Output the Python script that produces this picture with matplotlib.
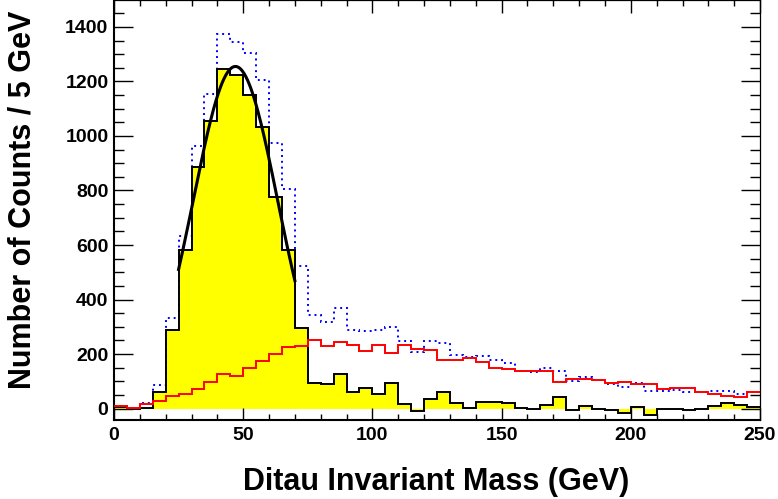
import numpy as np
import matplotlib
matplotlib.use("Agg")
import matplotlib.pyplot as plt
from matplotlib.ticker import MultipleLocator

plt.rcParams['font.family'] = ['Liberation Sans', 'DejaVu Sans']
plt.rcParams['font.weight'] = 'bold'

# 5 GeV bins from 0 to 250
bin_edges = np.arange(0, 255, 5)

# signal (yellow filled, black outline)
signal = [5, -2, 1, 60, 288, 582, 887, 1056, 1245, 1224,
          1152, 1032, 775, 582, 297, 92, 89, 128, 59, 75,
          54, 94, 16, -8, 34, 62, 21, 2, 23, 25,
          20, 1, -3, 12, 41, -5, 10, -3, -5, -17,
          5, -24, 0, -3, -7, 0, 10, 20, 13, 7]

# background (red)
background = [8, 2, 18, 28, 46, 54, 73, 98, 128, 120,
              150, 174, 200, 226, 230, 252, 231, 243, 232, 212,
              235, 205, 232, 218, 215, 178, 178, 187, 170, 150,
              146, 139, 138, 138, 97, 109, 109, 106, 92, 98,
              90, 89, 72, 74, 74, 59, 54, 47, 42, 61]

# total (blue dotted)
total = [10, 2, 20, 86, 333, 634, 963, 1155, 1374, 1346,
         1303, 1205, 975, 805, 524, 345, 319, 370, 289, 285,
         289, 298, 248, 209, 247, 239, 196, 189, 191, 177,
         168, 139, 134, 149, 138, 102, 117, 105, 89, 80,
         95, 65, 65, 68, 59, 62, 65, 65, 54, 62]

# gaussian fit to the signal peak
fit_amp = 1255
fit_mean = 47.0
fit_sigma = 16.4
fit_range = (25, 70)

fig = plt.figure(figsize=(7.78, 4.99), dpi=100)
ax = fig.add_axes([0.1465, 0.1583, 0.8304, 0.8407])

ax.stairs(signal, bin_edges, fill=True, color='#ffff00', baseline=0, zorder=1)
ax.stairs(signal, bin_edges, baseline=None, color='black', lw=1.4, zorder=3)
ax.stairs(total, bin_edges, baseline=None, color='#0000ff', lw=1.4,
          linestyle=(0, (1, 2)), zorder=2)
ax.stairs(background, bin_edges, baseline=None, color='#ff0000', lw=1.4, zorder=4)

xf = np.linspace(fit_range[0], fit_range[1], 200)
yf = fit_amp * np.exp(-0.5 * ((xf - fit_mean) / fit_sigma) ** 2)
ax.plot(xf, yf, color='black', lw=2.2, zorder=5)

ax.set_xlim(0, 250)
ax.set_ylim(-42, 1497)

ax.xaxis.set_major_locator(MultipleLocator(50))
ax.xaxis.set_minor_locator(MultipleLocator(10))
ax.yaxis.set_major_locator(MultipleLocator(200))
ax.yaxis.set_minor_locator(MultipleLocator(50))

ax.tick_params(axis='both', which='both', direction='in', top=True, right=True,
               width=1.0, labelsize=14)
ax.tick_params(axis='y', which='major', length=14, pad=4)
ax.tick_params(axis='y', which='minor', length=7)
ax.tick_params(axis='x', which='major', length=9, pad=5)
ax.tick_params(axis='x', which='minor', length=4)
for lab in ax.get_xticklabels() + ax.get_yticklabels():
    lab.set_fontweight('bold')

for side in ['left', 'bottom']:
    ax.spines[side].set_linewidth(1.5)
for side in ['top', 'right']:
    ax.spines[side].set_linewidth(0.9)

ax.set_xlabel('Ditau Invariant Mass (GeV)', fontsize=22, fontweight='bold', va='center')
ax.set_ylabel('Number of Counts / 5 GeV', fontsize=22, fontweight='bold', va='center')
ax.xaxis.set_label_coords(0.498, -0.148)
ax.yaxis.set_label_coords(-0.142, 0.524)

fig.savefig('out.png', dpi=100)
